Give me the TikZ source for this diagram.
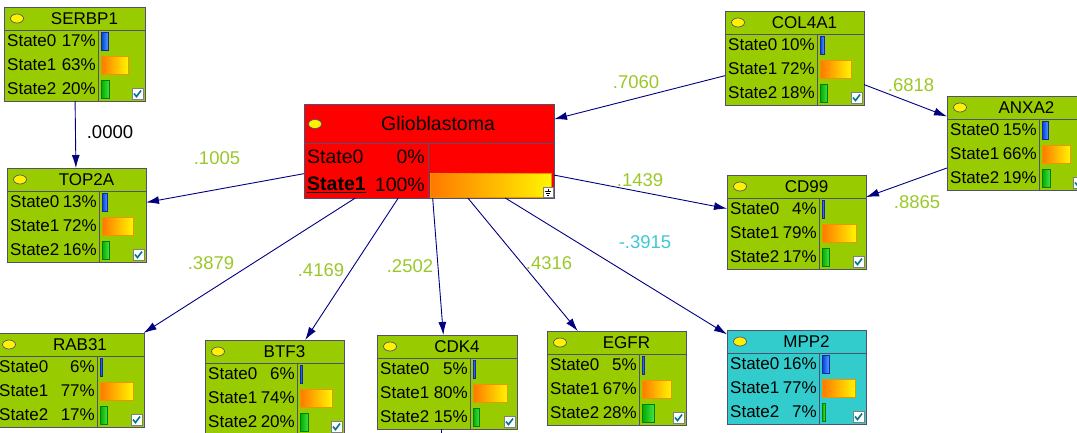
\documentclass[tikz,border=0pt]{standalone}
\usepackage{fontspec}
\setmainfont{Liberation Sans}
\usetikzlibrary{arrows.meta,shapes.geometric}

\definecolor{nodegreen}{RGB}{153,204,0}
\definecolor{nodered}{RGB}{255,0,0}
\definecolor{nodecyan}{RGB}{51,204,204}
\definecolor{nodeframe}{RGB}{80,80,115}
\definecolor{edgenavy}{RGB}{0,0,128}
\definecolor{labgreen}{RGB}{155,200,40}
\definecolor{labcyan}{RGB}{60,200,215}

\newcommand{\statefont}{\fontsize{17}{17}\selectfont}
\newcommand{\gliofont}{\fontsize{19.5}{19.5}\selectfont}
\newcommand{\labfont}{\fontsize{18.5}{18.5}\selectfont}

% gene node: name, x, y, title, p0, p1, p2, fill, width
\newcommand{\genenode}[9]{%
  \node[genebox,fill=#8,minimum width=#9pt] (#1) at (#2,#3) {};
  \begin{scope}[shift={(#2,#3)}]
    \pgfmathsetmacro{\W}{#9}
    \pgfmathsetmacro{\D}{#9-47}
    \draw[frame] (0,23) -- (\W,23) (\D,23) -- (\D,94);
    \node[oval] (#1-oval) at (13,11.5) {};
    \node[title] (#1-title) at ({(20+\W)/2},11.5) {#4};
    \foreach \st/\pc/\ry/\bs in {0/#5/34/bluebar,1/#6/58/orangebar,2/#7/82/greenbar}{
      \node[statetxt] (#1-s\st) at (3,\ry) {State\st};
      \node[pcttxt] (#1-p\st) at (\D-2,\ry) {\pc\%};
      \pgfmathsetmacro{\barw}{max(2,\pc*0.43)}
      \draw[\bs] (\D+3,\ry-9) rectangle ++(\barw,18);
    }
    \draw[checkbox] (\W-13,81) rectangle (\W-2,92);
    \draw[checkmark] (\W-11,86.5) -- (\W-8.5,89.5) -- (\W-4,83.5);
  \end{scope}}

\begin{document}
\begin{tikzpicture}[x=1pt,y=-1pt,
  genebox/.style={draw=nodeframe,line width=0.9pt,anchor=north west,
    minimum height=94pt,inner sep=0pt,outer sep=0pt},
  frame/.style={draw=nodeframe,line width=0.9pt},
  oval/.style={ellipse,draw=nodeframe,fill=yellow,line width=0.7pt,
    minimum width=13pt,minimum height=9pt,inner sep=0pt},
  title/.style={font=\statefont,inner sep=0pt},
  statetxt/.style={font=\statefont,anchor=west,inner sep=0pt},
  pcttxt/.style={font=\statefont,anchor=east,inner sep=0pt},
  bluebar/.style={draw={rgb,255:red,20;green,40;blue,160},line width=0.6pt,
    left color={rgb,255:red,0;green,60;blue,220},right color={rgb,255:red,80;green,160;blue,255}},
  orangebar/.style={draw={rgb,255:red,235;green,150;blue,0},line width=0.6pt,
    left color={rgb,255:red,255;green,120;blue,0},right color={rgb,255:red,255;green,245;blue,0}},
  greenbar/.style={draw={rgb,255:red,0;green,130;blue,0},line width=0.6pt,
    left color={rgb,255:red,0;green,170;blue,0},right color={rgb,255:red,70;green,225;blue,70}},
  checkbox/.style={draw=gray,fill=white,line width=0.5pt},
  checkmark/.style={draw={rgb,255:red,0;green,120;blue,140},line width=1.6pt},
  link/.style={draw=edgenavy,line width=0.9pt,-{Latex[length=13pt,width=8pt]}},
  wlabel/.style={font=\labfont,text=labgreen,inner sep=0pt}]
\useasboundingbox (0,0) rectangle (1077,432);

% gene nodes
\genenode{serbp1}{4}{7}{SERBP1}{17}{63}{20}{nodegreen}{141}
\genenode{top2a}{7}{168}{TOP2A}{13}{72}{16}{nodegreen}{139}
\genenode{col4a1}{725}{11}{COL4A1}{10}{72}{18}{nodegreen}{139}
\genenode{anxa2}{947}{96}{ANXA2}{15}{66}{19}{nodegreen}{139}
\genenode{cd99}{727}{175}{CD99}{4}{79}{17}{nodegreen}{139}
\genenode{mpp2}{727}{330}{MPP2}{16}{77}{7}{nodecyan}{139}
\genenode{rab31}{-4}{333}{RAB31}{6}{77}{17}{nodegreen}{148}
\genenode{btf3}{205}{340}{BTF3}{6}{74}{20}{nodegreen}{139}
\genenode{cdk4}{377}{335}{CDK4}{5}{80}{15}{nodegreen}{140}
\genenode{egfr}{547}{331}{EGFR}{5}{67}{28}{nodegreen}{139}

% class node
\node[genebox,fill=nodered,minimum width=250pt] (glio) at (304,104) {};
\begin{scope}[shift={(304,104)}]
  \draw[frame] (0,39) -- (250,39) (124,39) -- (124,94);
  \node[oval] (glio-oval) at (11,20) {};
  \node[title,font=\gliofont] (glio-title) at (134,20) {Glioblastoma};
  \node[statetxt,font=\gliofont] (glio-s0) at (3,53) {State0};
  \node[pcttxt,font=\gliofont] (glio-p0) at (121,53) {0\%};
  \node[statetxt,font=\gliofont\bfseries] (glio-s1) at (3,81) {\underline{State1}};
  \node[pcttxt,font=\gliofont] (glio-p1) at (121,81) {100\%};
  \draw[orangebar] (126,69) rectangle (247,93);
  \draw[checkbox] (239,83) rectangle (249,93);
  \draw[line width=0.6pt] (244,84.5) -- (244,87) (241,87) -- (247,87)
    (242,89) -- (246,89) (243,91) -- (245,91);
\end{scope}

% connectors
\coordinate (offpage) at (441,445);
\draw[link] (serbp1) -- (top2a);
\draw[link] (glio) -- (top2a);
\draw[link] (col4a1) -- (glio);
\draw[link] (col4a1) -- (anxa2);
\draw[link] (anxa2) -- (cd99);
\draw[link] (glio) -- (cd99);
\draw[link] (glio) -- (rab31);
\draw[link] (glio) -- (btf3);
\draw[link] (glio) -- (cdk4);
\draw[link] (glio) -- (egfr);
\draw[link] (glio) -- (mpp2);
\draw[draw=edgenavy,line width=0.9pt] (cdk4.south -| offpage) -- (offpage);

% weights
\node[wlabel,text=black] (w-serbp1) at (110,132) {.0000};
\node[wlabel] (w-top2a) at (217,158) {.1005};
\node[wlabel] (w-col4a1) at (636,82) {.7060};
\node[wlabel] (w-anxa2) at (911,85) {.6818};
\node[wlabel] (w-cd99a) at (917,202) {.8865};
\node[wlabel] (w-cd99g) at (640,180) {.1439};
\node[wlabel] (w-rab31) at (211,263) {.3879};
\node[wlabel] (w-btf3) at (321,270) {.4169};
\node[wlabel] (w-cdk4) at (410,266) {.2502};
\node[wlabel] (w-egfr) at (549,263) {.4316};
\node[wlabel,text=labcyan] (w-mpp2) at (645,242) {-.3915};
\end{tikzpicture}
\end{document}
